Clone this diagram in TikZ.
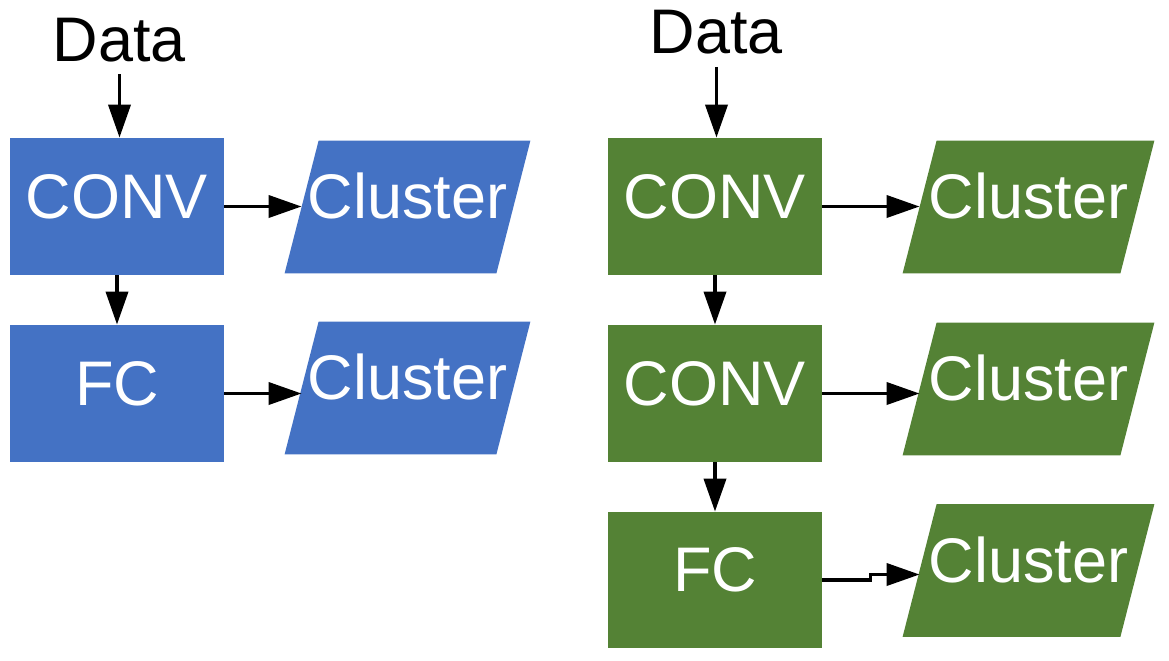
\documentclass[tikz,border=0pt]{standalone}
\usepackage{fontspec}
\setmainfont{Liberation Sans}
\usetikzlibrary{arrows.meta,backgrounds,calc}
\definecolor{cblue}{HTML}{4472C4}
\definecolor{cgreen}{HTML}{548235}
\begin{document}
\begin{tikzpicture}[x=0.5pt,y=-0.5pt,
  lbl/.style={font=\fontsize{31.5pt}{36pt}\selectfont, text height=22.5pt, text depth=11pt, inner sep=0pt},
  box/.style={lbl, text=white, minimum width=107pt, minimum height=68.5pt},
  clus/.style={lbl, text=white, minimum height=66pt},
  datalbl/.style={font=\fontsize{31.5pt}{36pt}\selectfont, text height=22.5pt, text depth=0pt, inner xsep=0pt, inner ysep=6.5pt},
  arr/.style={line width=1.9pt, -{Triangle[length=16.5pt,width=11pt]}}]
\useasboundingbox (0,0) rectangle (1169,660);
% left column
\node[datalbl] (d1) at (119.5,38.5) {Data};
\node[box, fill=cblue] (b1) at (117,206.5) {CONV};
\node[box, fill=cblue] (b2) at (117,393.5) {FC};
\node[clus, minimum width=105.5pt] (k1) at (407.5,207) {Cluster};
\node[clus, minimum width=105.5pt] (k2) at (407.5,388) {Cluster};
% right column
\node[datalbl] (d2) at (716.5,31) {Data};
\node[box, fill=cgreen] (g1) at (715,206.5) {CONV};
\node[box, fill=cgreen] (g2) at (715,393.5) {CONV};
\node[box, fill=cgreen, minimum height=68pt] (g3) at (715,580) {FC};
\node[clus, minimum width=108.5pt] (k3) at (1028.5,207) {Cluster};
\node[clus, minimum width=108.5pt] (k4) at (1028.5,389) {Cluster};
\node[clus, minimum width=108.5pt] (k5) at (1028.5,570.5) {Cluster};
% parallelogram bodies
\begin{scope}[on background layer]
\foreach \n/\c in {k1/cblue,k2/cblue,k3/cgreen,k4/cgreen,k5/cgreen}
  \fill[\c] ([xshift=-8.5pt]\n.south west) -- ([xshift=8.5pt]\n.north west)
    -- ([xshift=8.5pt]\n.north east) -- ([xshift=-8.5pt]\n.south east) -- cycle;
\end{scope}
% connectors
\draw[arr] (d1.south) -- (d1.south |- b1.north);
\draw[arr] (b1.south) -- (b2.north);
\draw[arr] (b1.east) -- (b1.east -| k1.west);
\draw[arr] (b2.east) -- (b2.east -| k2.west);
\draw[arr] (d2.south) -- (d2.south |- g1.north);
\draw[arr] (g1.south) -- (g2.north);
\draw[arr] (g2.south) -- (g3.north);
\draw[arr] (g1.east) -- (g1.east -| k3.west);
\draw[arr] (g2.east) -- (g2.east -| k4.west);
\draw[arr] (g3.east) -- ++(48,0) |- ([yshift=-2pt]k5.west);
\end{tikzpicture}
\end{document}
